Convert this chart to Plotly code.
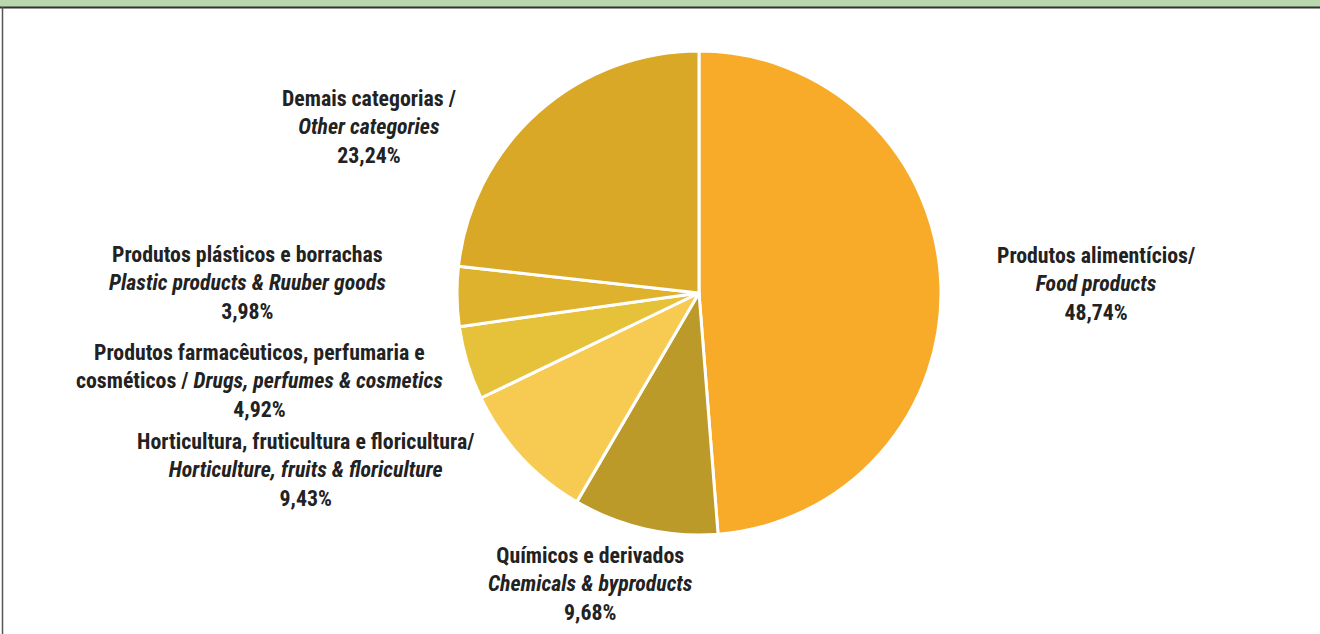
import plotly.graph_objects as go

# ---- data ----
categories_pt = [
    "Produtos alimentícios",
    "Químicos e derivados",
    "Horticultura, fruticultura e floricultura",
    "Produtos farmacêuticos, perfumaria e cosméticos",
    "Produtos plásticos e borrachas",
    "Demais categorias",
]
categories_en = [
    "Food products",
    "Chemicals & byproducts",
    "Horticulture, fruits & floriculture",
    "Drugs, perfumes & cosmetics",
    "Plastic products & Ruuber goods",
    "Other categories",
]
values = [48.74, 9.68, 9.43, 4.92, 3.98, 23.24]
slice_colors = ["#F8AB28", "#BC9A2A", "#F7CB52", "#E5C23A", "#DFB22E", "#D9A827"]

# label text layout (line breaks as in the original)
label_lines = [
    ["Produtos alimentícios/", "<i>Food products</i>"],
    ["Químicos e derivados", "<i>Chemicals & byproducts</i>"],
    ["Horticultura, fruticultura e floricultura/", "<i>Horticulture, fruits & floriculture</i>"],
    ["Produtos farmacêuticos, perfumaria e", "cosméticos / <i>Drugs, perfumes & cosmetics</i>"],
    ["Produtos plásticos e borrachas", "<i>Plastic products & Ruuber goods</i>"],
    ["Demais categorias /", "<i>Other categories</i>"],
]

W, H = 1320, 634
FONT = "Roboto Condensed, Liberation Sans Narrow, Roboto, sans-serif"

fig = go.Figure()
fig.add_trace(go.Pie(
    labels=categories_pt,
    values=values,
    sort=False,
    direction="clockwise",
    rotation=0,
    marker=dict(colors=slice_colors, line=dict(color="white", width=3)),
    textinfo="none",
    hoverinfo="label+percent",
    showlegend=False,
    domain=dict(x=[457 / W, 941 / W], y=[(H - 535) / H, (H - 51) / H]),
))

# label anchor positions in pixels (center x, center y of text block)
label_pos = [(1096, 284), (590, 584), (305, 470), (259, 381), (248, 283), (369, 127)]

for lines, v, (px, py) in zip(label_lines, values, label_pos):
    pct = f"{v:.2f}".replace(".", ",") + "%"
    txt = "<b>" + "<br>".join(lines + [pct]) + "</b>"
    fig.add_annotation(
        x=px / W, y=1 - py / H, xref="paper", yref="paper",
        text=txt, showarrow=False, align="center",
        xanchor="center", yanchor="middle",
        font=dict(family=FONT, size=21.8, color="#222222"),
    )

# frame decorations: green header strip, dark rule, left border
fig.add_shape(type="rect", xref="paper", yref="paper", x0=0, x1=1,
              y0=1 - 7 / H, y1=1, fillcolor="#B8D8AE", line=dict(width=0), layer="above")
fig.add_shape(type="line", xref="paper", yref="paper", x0=0, x1=1,
              y0=1 - 7.5 / H, y1=1 - 7.5 / H, line=dict(color="#333333", width=2))
fig.add_shape(type="line", xref="paper", yref="paper", x0=2.5 / W, x1=2.5 / W,
              y0=0, y1=1 - 7 / H, line=dict(color="#555555", width=1.5))

fig.update_layout(
    width=W, height=H,
    margin=dict(l=0, r=0, t=0, b=0),
    paper_bgcolor="white", plot_bgcolor="white",
)

fig.write_html(
    "out.html",
    config={"displayModeBar": False},
    post_script="document.body.style.margin='0';document.body.style.overflow='hidden';",
)
